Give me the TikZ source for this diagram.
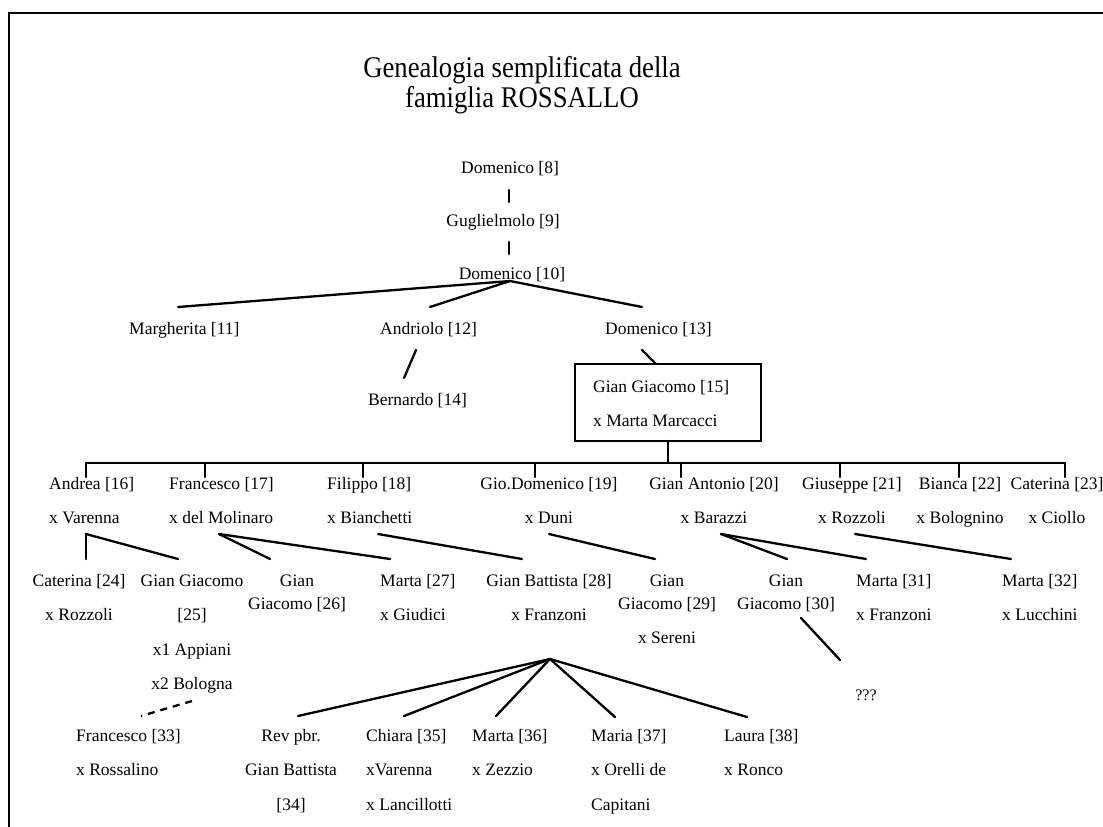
\documentclass[tikz,border=0pt]{standalone}
\usepackage{fontspec}
\setmainfont{Liberation Serif}
\newfontfamily\titlefont[FakeStretch=0.89]{Liberation Serif}
\newcommand\myst{\rule{0pt}{13bp}}
\newcommand\ttst{\rule{0pt}{20bp}}
\begin{document}
\begin{tikzpicture}[x=1bp,y=-1bp,
  tx/.style={inner sep=0pt, font=\fontsize{17.5bp}{23bp}\selectfont},
  ln/.style={line width=2.3bp, line cap=round},
  dashln/.style={line width=2.3bp, dash pattern=on 7bp off 6bp},
  frame/.style={line width=2bp}]
\useasboundingbox (0,0) rectangle (1103,827);
% frame
\coordinate (fr1) at (1103,13);
\coordinate (fr2) at (9,13);
\coordinate (fr3) at (9,827);
\draw[frame] (fr1) -- (fr2) -- (fr3);
% title
\node[inner sep=0pt, anchor=north, align=center, font=\titlefont\fontsize{30bp}{30bp}\selectfont] (title) at (522,56)
  {\ttst Genealogia semplificata della\\famiglia ROSSALLO};
% top chain
\node[tx, anchor=base] (d8) at (510,173) {Domenico [8]};
\node[tx, anchor=base] (g9) at (503,226) {Guglielmolo [9]};
\node[tx, anchor=base] (d10) at (512,279) {Domenico [10]};
\coordinate (t1a) at (509,190); \coordinate (t1b) at (509,202);
\coordinate (t2a) at (509,242); \coordinate (t2b) at (509,254);
\draw[ln] (t1a) -- (t1b);
\draw[ln] (t2a) -- (t2b);
% generation 11-13
\node[tx, anchor=base west] (n11) at (129,334) {Margherita [11]};
\node[tx, anchor=base west] (n12) at (380,334) {Andriolo [12]};
\node[tx, anchor=base west] (n13) at (605,334) {Domenico [13]};
\coordinate (a10) at (510,281);
\coordinate (e11) at (178,307);
\coordinate (e12) at (430,307);
\coordinate (e13) at (642,307);
\draw[ln] (e11) -- (a10) -- (e13);
\draw[ln] (a10) -- (e12);
\node[tx, anchor=base west] (n14) at (368,405) {Bernardo [14]};
\coordinate (s12) at (416,350); \coordinate (e14) at (404,378);
\draw[ln] (s12) -- (e14);
% box 15
\node[draw, line width=2bp, minimum width=186bp, minimum height=77bp, inner sep=0pt] (b15) at (668,402.5) {};
\node[tx, anchor=north west, align=left] (n15) at (593,379) {\myst Gian Giacomo [15]\\[11.5bp]x Marta Marcacci};
\coordinate (s13) at (642,350); \coordinate (e15) at (656,364);
\draw[ln] (s13) -- (e15);
% children bar
\coordinate (bt) at (668,441);
\coordinate (bb) at (668,463);
\draw[ln] (bt) -- (bb);
\coordinate (barL) at (86,463);
\coordinate (barR) at (1065,463);
\draw[ln] (barL) -- (barR);
\foreach \xx/\nm in {86/16,205/17,363/18,535/19,681/20,840/21,959/22,1065/23}{
  \coordinate (u\nm) at (\xx,463);
  \coordinate (v\nm) at (\xx,477);
  \draw[ln] (u\nm) -- (v\nm);
}
% row 1
\node[tx, anchor=north west, align=left] (n16) at (49,476) {\myst Andrea [16]\\[11.5bp]x Varenna};
\node[tx, anchor=north west, align=left] (n17) at (169,476) {\myst Francesco [17]\\[11.5bp]x del Molinaro};
\node[tx, anchor=north west, align=left] (n18) at (327,476) {\myst Filippo [18]\\[11.5bp]x Bianchetti};
\node[tx, anchor=north, align=center] (n19) at (549,476) {\myst Gio.Domenico [19]\\[11.5bp]x Duni};
\node[tx, anchor=north, align=center] (n20) at (714,476) {\myst Gian Antonio [20]\\[11.5bp]x Barazzi};
\node[tx, anchor=north, align=center] (n21) at (852,476) {\myst Giuseppe [21]\\[11.5bp]x Rozzoli};
\node[tx, anchor=north, align=center] (n22) at (960,476) {\myst Bianca [22]\\[11.5bp]x Bolognino};
\node[tx, anchor=north, align=center] (n23) at (1057,476) {\myst Caterina [23]\\[11.5bp]x Ciollo};
% row 1 -> row 2 connectors
\coordinate (p16) at (86,534);
\coordinate (p17) at (219,534);
\coordinate (p18) at (378,534);
\coordinate (p19) at (549,534);
\coordinate (p20) at (721,534);
\coordinate (p21) at (855,534);
\coordinate (c24) at (86,559);
\coordinate (c25) at (178,559);
\coordinate (c26) at (270,559);
\coordinate (c27) at (390,559);
\coordinate (c28) at (522,559);
\coordinate (c29) at (655,559);
\coordinate (c30) at (787,559);
\coordinate (c31) at (866,559);
\coordinate (c32) at (1011,559);
\draw[ln] (p16) -- (c24);
\draw[ln] (p16) -- (c25);
\draw[ln] (p17) -- (c26);
\draw[ln] (p17) -- (c27);
\draw[ln] (p18) -- (c28);
\draw[ln] (p19) -- (c29);
\draw[ln] (p20) -- (c30);
\draw[ln] (p20) -- (c31);
\draw[ln] (p21) -- (c32);
% row 2
\node[tx, anchor=north, align=center] (n24) at (79,573) {\myst Caterina [24]\\[11.5bp]x Rozzoli};
\node[tx, anchor=north, align=center] (n25) at (192,573) {\myst Gian Giacomo\\[11.5bp][25]\\[11.5bp]x1 Appiani\\[11.5bp]x2 Bologna};
\node[tx, anchor=north, align=center] (n26) at (297,573) {\myst Gian\\Giacomo [26]};
\node[tx, anchor=north west, align=left] (n27) at (380,573) {\myst Marta [27]\\[11.5bp]x Giudici};
\node[tx, anchor=north, align=center] (n28) at (549,573) {\myst Gian Battista [28]\\[11.5bp]x Franzoni};
\node[tx, anchor=north, align=center] (n29) at (667,573) {\myst Gian\\Giacomo [29]\\[11.5bp]x Sereni};
\node[tx, anchor=north, align=center] (n30) at (786,573) {\myst Gian\\Giacomo [30]};
\node[tx, anchor=north west, align=left] (n31) at (856,573) {\myst Marta [31]\\[11.5bp]x Franzoni};
\node[tx, anchor=north west, align=left] (n32) at (1002,573) {\myst Marta [32]\\[11.5bp]x Lucchini};
% unknown
\node[tx, anchor=base, font=\fontsize{16bp}{20bp}\selectfont] (q) at (866,700) {???};
\coordinate (s30) at (801,618); \coordinate (eq) at (840,660);
\draw[ln] (s30) -- (eq);
% dashed from 25 to 33
\coordinate (s25) at (192,701); \coordinate (e33) at (141,716);
\draw[dashln] (s25) -- (e33);
% fan from 28
\coordinate (a28) at (550,659);
\coordinate (c34) at (298,716);
\coordinate (c35) at (404,716);
\coordinate (c36) at (496,716);
\coordinate (c37) at (615,717);
\coordinate (c38) at (747,717);
\foreach \cc in {c34,c35,c36,c37,c38}{ \draw[ln] (a28) -- (\cc); }
% row 3
\node[tx, anchor=north west, align=left] (n33) at (76,728) {\myst Francesco [33]\\[11.5bp]x Rossalino};
\node[tx, anchor=north, align=center] (n34) at (291,728) {\myst Rev pbr.\\[11.5bp]Gian Battista\\[11.5bp][34]};
\node[tx, anchor=north west, align=left] (n35) at (366,728) {\myst Chiara [35]\\[11.5bp]xVarenna\\[11.5bp]x Lancillotti};
\node[tx, anchor=north west, align=left] (n36) at (472,728) {\myst Marta [36]\\[11.5bp]x Zezzio};
\node[tx, anchor=north west, align=left] (n37) at (591,728) {\myst Maria [37]\\[11.5bp]x Orelli de\\[11.5bp]Capitani};
\node[tx, anchor=north west, align=left] (n38) at (724,728) {\myst Laura [38]\\[11.5bp]x Ronco};
\end{tikzpicture}
\end{document}
